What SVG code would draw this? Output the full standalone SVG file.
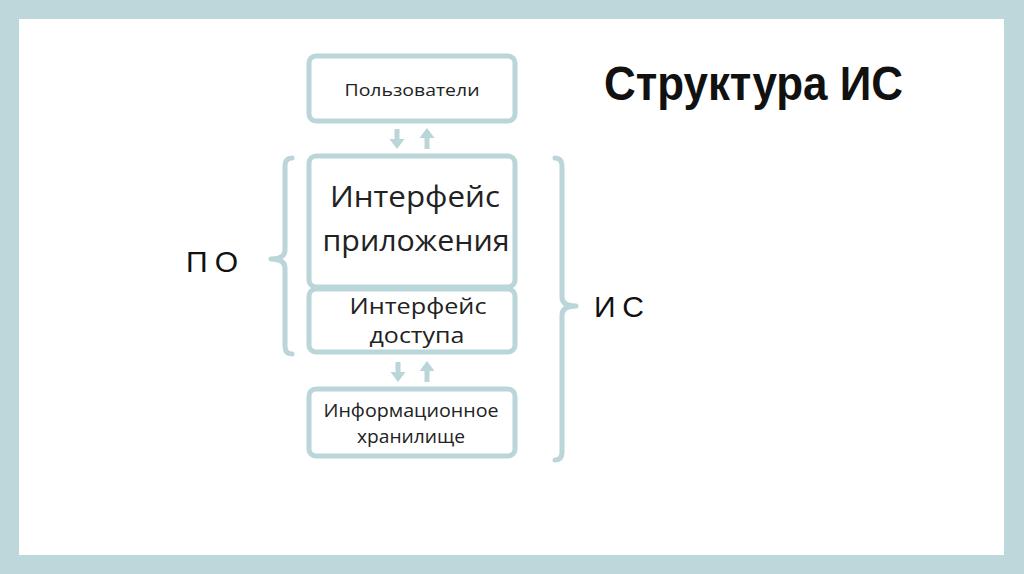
<svg xmlns="http://www.w3.org/2000/svg" width="1024" height="574" viewBox="0 0 1024 574">
<style>
.box{fill:#fff;stroke:#bad6d9;stroke-width:5}
.br{fill:none;stroke:#bad6d9;stroke-width:5;stroke-linecap:round;stroke-linejoin:round}
.ar{fill:#bad6d9}
.t{font-family:"Open Sans","DejaVu Sans",sans-serif;fill:#222;text-anchor:middle}
.l{font-family:"Liberation Sans",Arial,sans-serif;fill:#111}
</style>
<rect x="0" y="0" width="1024" height="574" fill="#bcd8da"/>
<rect x="19" y="19" width="985" height="536" fill="#fff"/>
<g id="title"><text class="l" x="604" y="100" font-size="48" font-weight="bold" textLength="299" lengthAdjust="spacingAndGlyphs">Структура ИС</text></g>
<g id="users"><rect class="box" x="309" y="56" width="206" height="65" rx="7"/><text class="t" x="412" y="96" font-size="17" textLength="135" lengthAdjust="spacingAndGlyphs">Пользователи</text></g>
<g id="app"><rect class="box" x="309" y="156" width="206" height="131" rx="7"/><text class="t" x="415" y="207" font-size="29" textLength="170" lengthAdjust="spacingAndGlyphs">Интерфейс</text><text class="t" x="416" y="251" font-size="29" textLength="187" lengthAdjust="spacingAndGlyphs">приложения</text></g>
<g id="access"><rect class="box" x="309" y="289" width="206" height="63" rx="7"/><text class="t" x="418" y="314" font-size="22" textLength="137" lengthAdjust="spacingAndGlyphs">Интерфейс</text><text class="t" x="417" y="343" font-size="22" textLength="95" lengthAdjust="spacingAndGlyphs">доступа</text></g>
<g id="storage"><rect class="box" x="309" y="389" width="206" height="67" rx="7"/><text class="t" x="411" y="417" font-size="19" textLength="175" lengthAdjust="spacingAndGlyphs">Информационное</text><text class="t" x="411" y="443" font-size="19" textLength="108" lengthAdjust="spacingAndGlyphs">хранилище</text></g>
<g id="po"><path class="br" d="M292,158 Q285,158 285,166 L285,250 Q285,259 271,259 Q285,259 285,268 L285,346 Q285,354 292,354"/><text class="l" x="186" y="272" font-size="30" textLength="52" lengthAdjust="spacing">П О</text></g>
<g id="is"><path class="br" d="M555,158 Q562,158 562,166 L562,297 Q562,306 576,306 Q562,306 562,315 L562,452 Q562,460 555,460"/><text class="l" x="594" y="317" font-size="30" textLength="50" lengthAdjust="spacing">И С</text></g>
<g id="connectors">
<path class="ar" d="M394.5,129 h5 v10 h5 l-7.5,10 l-7.5,-10 h5 z"/>
<path class="ar" d="M424.5,149 h5 v-11 h5 l-7.5,-10 l-7.5,10 h5 z"/>
<path class="ar" d="M395.5,362 h5 v10 h5 l-7.5,10 l-7.5,-10 h5 z"/>
<path class="ar" d="M424.5,382 h5 v-11 h5 l-7.5,-10 l-7.5,10 h5 z"/>
</g>
</svg>
